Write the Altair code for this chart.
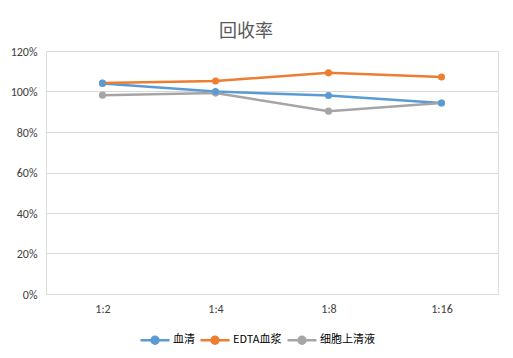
import altair as alt
import pandas as pd

categories = ["1:2", "1:4", "1:8", "1:16"]
series_names = ["血清", "EDTA血浆", "细胞上清液"]
serum = [1.04, 1.00, 0.98, 0.943]
edta = [1.042, 1.052, 1.092, 1.072]
supernatant = [0.982, 0.992, 0.903, 0.943]
colors = ["#5B9BD5", "#ED7D31", "#A5A5A5"]

rows = []
for name, vals in zip(series_names, [serum, edta, supernatant]):
    for c, v in zip(categories, vals):
        rows.append({"dilution": c, "series": name, "value": v})
df = pd.DataFrame(rows)

font = "Calibri, 'Liberation Sans', 'Noto Sans CJK SC', sans-serif"
cjk = "'Noto Sans CJK SC', sans-serif"

legend_symbol = "M-1,0H1M-0.24,0A0.24,0.24 0 1,0 0.24,0A0.24,0.24 0 1,0 -0.24,0Z"

color = alt.Color(
    "series:N",
    scale=alt.Scale(domain=series_names, range=colors),
    legend=alt.Legend(
        title=None,
        orient="none",
        direction="horizontal",
        legendX=93,
        legendY=273,
        symbolType=legend_symbol,
        symbolSize=841,
        symbolStrokeWidth=2.5,
        symbolOpacity=1,
        labelFont=cjk,
        labelFontSize=11,
        labelColor="#000000",
        labelOffset=2,
        columnPadding=0,
    ),
)

x = alt.X(
    "dilution:N",
    sort=categories,
    scale=alt.Scale(type="point", padding=0.5),
    axis=alt.Axis(
        title=None, labelAngle=0, ticks=False, domain=False, grid=False,
        labelFont=font, labelFontSize=12, labelColor="#404040", labelPadding=9,
    ),
)
y = alt.Y(
    "value:Q",
    scale=alt.Scale(domain=[0, 1.2], nice=False),
    axis=alt.Axis(
        title=None, format=".0%", values=[0, 0.2, 0.4, 0.6, 0.8, 1.0, 1.2],
        ticks=False, domain=False, gridColor="#D9D9D9", gridWidth=1,
        labelFont=font, labelFontSize=12, labelColor="#404040", labelPadding=9,
    ),
)

base = alt.Chart(df).encode(x=x, y=y, color=color, order=alt.Order("series:N"))
lines = base.mark_line(strokeWidth=2.5)
points = base.mark_point(filled=True, size=50, opacity=1)

chart = (
    alt.layer(lines, points)
    .properties(
        width=452,
        height=243,
        title=alt.TitleParams(
            "回收率", font=cjk, fontSize=18, fontWeight="normal",
            color="#595959", anchor="middle", offset=4, dx=-26,
        ),
        autosize=alt.AutoSizeParams(type="none"),
        padding={"left": 38, "top": 43, "right": 7, "bottom": 56},
    )
    .configure_view(stroke=None)
    .configure(background="white")
)

chart.save("out.html", embed_options={"renderer": "svg", "actions": False})
